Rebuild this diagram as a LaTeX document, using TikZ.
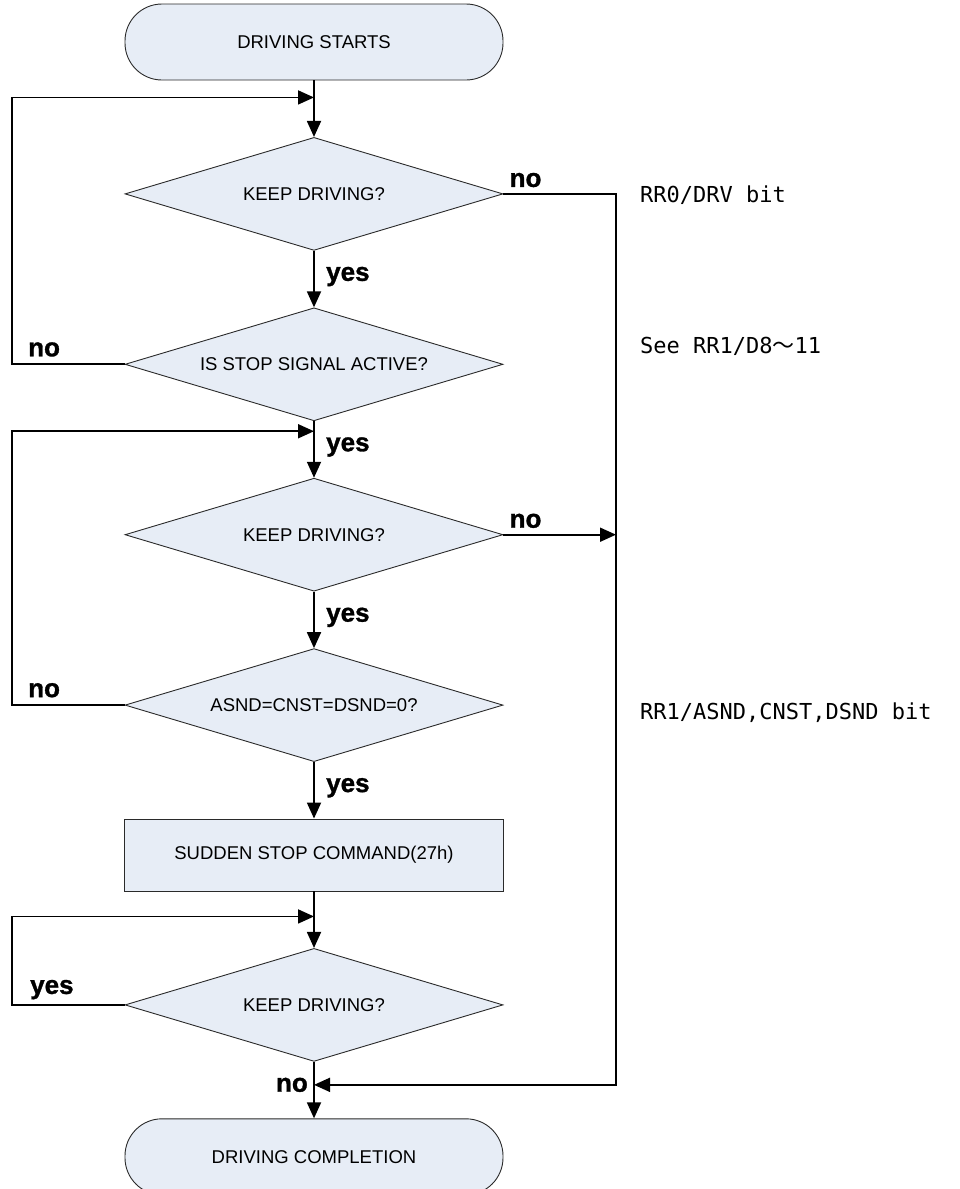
\documentclass[tikz,border=0pt]{standalone}
\usepackage{fontspec}
\setmainfont{Liberation Sans}
\newfontfamily\annofont{DejaVu Sans Mono}
\newfontfamily\cjkfont{Noto Sans CJK JP}
\newfontfamily\lblfont[FakeBold=1.2]{Liberation Sans Bold}
\usetikzlibrary{arrows.meta,calc,positioning,shapes.geometric}
\definecolor{ink}{HTML}{2A2A2A}
\definecolor{boxfill}{HTML}{E7EDF6}

\begin{document}
\begin{tikzpicture}[x=1pt,y=-1pt,node distance=56.5pt,>={Triangle[length=16pt,width=14pt]},
  term/.style={draw=ink,line width=0.9pt,fill=boxfill,rounded corners=37pt,minimum width=378pt,minimum height=76pt,font=\fontsize{18.5}{22}\selectfont},
  decision/.style={diamond,shape aspect=3.3,draw=ink,line width=0.9pt,fill=boxfill,inner sep=0pt,minimum width=378pt,minimum height=113pt,font=\fontsize{18.5}{22}\selectfont},
  proc/.style={draw=ink,line width=0.9pt,fill=boxfill,minimum width=379pt,minimum height=72pt,font=\fontsize{18.5}{22}\selectfont},
  flow/.style={line width=1.8pt},
  lbl/.style={inner sep=0pt,font=\lblfont\fontsize{26}{28}\selectfont},
  note/.style={inner sep=0pt,anchor=base west,font=\annofont\fontsize{22}{24}\selectfont}]
\useasboundingbox (0,0) rectangle (959,1189);
\coordinate (lx) at (12,0);
\coordinate (rx) at (616,0);
% main column
\node[term] (start) at (314,42) {DRIVING STARTS};
\node[decision,below=of start] (keep1) {KEEP DRIVING?};
\node[decision,below=of keep1] (stop) {IS STOP SIGNAL ACTIVE?};
\node[decision,below=of stop] (keep2) {KEEP DRIVING?};
\node[decision,below=of keep2] (zero) {ASND=CNST=DSND=0?};
\node[proc,below=of zero] (halt) {SUDDEN STOP COMMAND(27h)};
\node[decision,below=of halt] (keep3) {KEEP DRIVING?};
\node[term,below=of keep3] (done) {DRIVING COMPLETION};
% junctions on the main line
\coordinate (j1) at ($(start.south)+(0,17)$);
\coordinate (j2) at ($(stop.south)+(0,10)$);
\coordinate (j3) at ($(halt.south)+(0,25)$);
\coordinate (j4) at ($(keep3.south)+(0,23)$);
\draw[flow,->] (start) -- (keep1);
\draw[flow,->] (keep1) -- (stop);
\draw[flow,->] (stop) -- (keep2);
\draw[flow,->] (keep2) -- (zero);
\draw[flow,->] (zero) -- (halt);
\draw[flow,->] (halt) -- (keep3);
\draw[flow,->] (keep3) -- (done);
% loops back
\draw[flow,->] (stop.west) -- (stop.west -| lx) |- (j1);
\draw[flow,->] (zero.west) -- (zero.west -| lx) |- (j2);
\draw[flow,->] (keep3.west) -- (keep3.west -| lx) |- (j3);
\draw[flow,->] (keep1.east) -- (keep1.east -| rx) |- (j4);
\draw[flow,->] (keep2.east) -- (keep2.east -| rx);
% yes / no
\node[lbl,anchor=base west] (no1) at ($(keep1.east)+(6,-7)$) {no};
\node[lbl,anchor=base west] (yes1) at ($(keep1.south)+(12,30)$) {yes};
\node[lbl,anchor=base west] (no2) at ($(stop.west -| lx)+(16,-8)$) {no};
\node[lbl,anchor=base west] (yes2) at ($(stop.south)+(12,30)$) {yes};
\node[lbl,anchor=base west] (no3) at ($(keep2.east)+(6,-7)$) {no};
\node[lbl,anchor=base west] (yes3) at ($(keep2.south)+(12,30)$) {yes};
\node[lbl,anchor=base west] (no4) at ($(zero.west -| lx)+(16,-8)$) {no};
\node[lbl,anchor=base west] (yes4) at ($(zero.south)+(12,30)$) {yes};
\node[lbl,anchor=base west] (yes5) at ($(keep3.west -| lx)+(18,-11)$) {yes};
\node[lbl,anchor=east] (no5) at ($(j4)+(-6,0)$) {no};
% register notes
\node[note] (drvbit) at ($(keep1.east -| rx)+(24,9)$) {RR0/DRV bit};
\node[note] (stopbit) at ($(stop.east -| rx)+(24,-11)$) {See RR1/D8{\cjkfont ～}11};
\node[note] (sndbit) at ($(zero.east -| rx)+(24,14)$) {RR1/ASND,CNST,DSND bit};
\end{tikzpicture}
\end{document}
